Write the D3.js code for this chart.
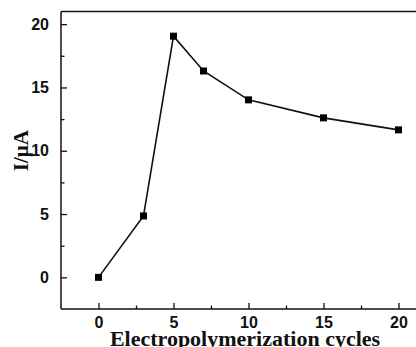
<!DOCTYPE html>
<html>
<head>
<meta charset="utf-8">
<script src="https://cdn.jsdelivr.net/npm/d3@7"></script>
<style>
  body { margin: 0; background: #fff; }
  svg { display: block; }
</style>
</head>
<body>
<svg id="chart" width="416" height="347"></svg>
<script>
const cycles = [0, 3, 5, 7, 10, 15, 20];
const current = [0, 4.85, 19.05, 16.3, 14.02, 12.6, 11.65];
const xTicks = [0, 5, 10, 15, 20];
const yTicks = [0, 5, 10, 15, 20];

const width = 416;
const height = 347;

// plot box (right side runs past the picture edge, like the original crop)
const boxLeft = 61, boxTop = 11.5, boxBottom = 309;

const x = d3.scaleLinear().domain([-2.5, 22.5]).range([boxLeft, boxLeft + 375]);
const y = d3.scaleLinear().domain([-2.5, 21]).range([boxBottom, boxTop]);

const svg = d3.select("#chart");

// frame
const frame = svg.append("g")
  .attr("stroke", "#111")
  .attr("stroke-width", 1.5)
  .attr("fill", "none");
frame.append("line").attr("x1", boxLeft).attr("x2", boxLeft).attr("y1", boxTop).attr("y2", boxBottom);
frame.append("line").attr("x1", boxLeft).attr("x2", width + 5).attr("y1", boxTop).attr("y2", boxTop);
frame.append("line").attr("x1", boxLeft).attr("x2", width + 5).attr("y1", boxBottom).attr("y2", boxBottom);

// axes with inward ticks
const minorX = d3.range(2.5, 22, 5);
const minorY = d3.range(2.5, 21, 5);

const xAxis = svg.append("g")
  .attr("transform", `translate(0,${boxBottom})`)
  .call(d3.axisBottom(x).tickValues(xTicks).tickSizeInner(-6).tickSizeOuter(0).tickPadding(8));
svg.append("g")
  .attr("transform", `translate(0,${boxBottom})`)
  .call(d3.axisBottom(x).tickValues(minorX).tickSizeInner(-3.5).tickSizeOuter(0).tickFormat(""));

svg.append("g")
  .attr("transform", `translate(${boxLeft},0)`)
  .call(d3.axisLeft(y).tickValues(yTicks).tickSizeInner(-6).tickSizeOuter(0).tickPadding(12));
svg.append("g")
  .attr("transform", `translate(${boxLeft},0)`)
  .call(d3.axisLeft(y).tickValues(minorY).tickSizeInner(-3.5).tickSizeOuter(0).tickFormat(""));

svg.selectAll(".domain").remove();
svg.selectAll(".tick line").attr("stroke", "#111").attr("stroke-width", 1.3);
svg.selectAll(".tick text")
  .attr("fill", "#111")
  .style("font-family", "Arial, 'Liberation Sans', sans-serif")
  .style("font-weight", "bold")
  .style("font-size", "16px");
xAxis.selectAll(".tick text").attr("dy", "0.71em");

// axis titles
svg.append("text")
  .attr("x", 245)
  .attr("y", 346)
  .attr("text-anchor", "middle")
  .style("font-family", "'Liberation Serif', 'Times New Roman', serif")
  .style("font-weight", "bold")
  .style("font-size", "22px")
  .attr("fill", "#111")
  .text("Electropolymerization cycles");

svg.append("text")
  .attr("transform", `translate(28,${y(10)}) rotate(-90)`)
  .attr("text-anchor", "middle")
  .style("font-family", "'Liberation Serif', 'Times New Roman', serif")
  .style("font-weight", "bold")
  .style("font-size", "21px")
  .attr("fill", "#111")
  .text("I/μA");

// data line and markers
const points = cycles.map((c, i) => [c, current[i]]);

svg.append("path")
  .datum(points)
  .attr("fill", "none")
  .attr("stroke", "#111")
  .attr("stroke-width", 1.6)
  .attr("d", d3.line().x((d) => x(d[0])).y((d) => y(d[1])));

svg.append("g")
  .selectAll("rect")
  .data(points)
  .join("rect")
  .attr("x", (d) => x(d[0]) - 3.5)
  .attr("y", (d) => y(d[1]) - 3.5)
  .attr("width", 7)
  .attr("height", 7)
  .attr("fill", "#000");
</script>
</body>
</html>
